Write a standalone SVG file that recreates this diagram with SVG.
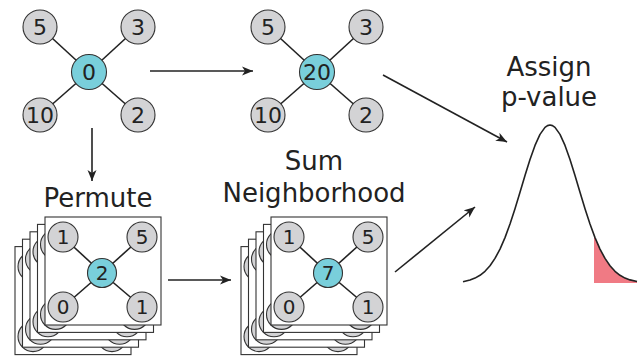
<svg xmlns="http://www.w3.org/2000/svg" xmlns:xlink="http://www.w3.org/1999/xlink" width="638" height="358" viewBox="0 0 638 358">
<style>
  .edge { stroke: #222; stroke-width: 1.6; fill: none; }
  .nb { fill: #d3d3d5; stroke: #333; stroke-width: 1.1; }
  .ctr { fill: #79cfdb; stroke: #333; stroke-width: 1.1; }
  .frame { fill: #fff; stroke: #333; stroke-width: 1.1; }
  .num { font-family: "DejaVu Sans", sans-serif; font-size: 22px; fill: #222; text-anchor: middle; }
  .snum { font-family: "DejaVu Sans", sans-serif; font-size: 20px; fill: #222; text-anchor: middle; }
  .lbl { font-family: "DejaVu Sans", sans-serif; font-size: 26px; fill: #222; text-anchor: middle; }
  .arrow { stroke: #222; stroke-width: 1.6; fill: none; marker-end: url(#ah); }
</style>
<defs>
  <marker id="ah" markerUnits="userSpaceOnUse" markerWidth="12" markerHeight="10" refX="11" refY="5" orient="auto" viewBox="0 0 12 10">
    <path d="M0,0.5 L11,5 L0,9.5 L3,5 z" fill="#222"/>
  </marker>
  <g id="card">
    <rect class="frame" x="0" y="0" width="116" height="108"/>
    <line class="edge" x1="57" y1="56" x2="18" y2="20"/>
    <line class="edge" x1="57" y1="56" x2="97" y2="20"/>
    <line class="edge" x1="57" y1="56" x2="18" y2="90"/>
    <line class="edge" x1="57" y1="56" x2="97" y2="90"/>
    <circle class="nb" cx="18" cy="20" r="15"/>
    <circle class="nb" cx="97" cy="20" r="15"/>
    <circle class="nb" cx="18" cy="90" r="15"/>
    <circle class="nb" cx="97" cy="90" r="15"/>
    <circle class="ctr" cx="57" cy="56" r="14.5"/>
  </g>
</defs>
<rect width="638" height="358" fill="#fff"/>

<g id="graph-original">
  <line class="edge" x1="89" y1="72" x2="40" y2="27"/>
  <line class="edge" x1="89" y1="72" x2="138" y2="27"/>
  <line class="edge" x1="89" y1="72" x2="40" y2="115"/>
  <line class="edge" x1="89" y1="72" x2="138" y2="115"/>
  <circle class="nb" cx="40" cy="27" r="17"/><text class="num" x="40" y="35">5</text>
  <circle class="nb" cx="138" cy="27" r="17"/><text class="num" x="138" y="35">3</text>
  <circle class="nb" cx="40" cy="115" r="17"/><text class="num" x="40" y="123">10</text>
  <circle class="nb" cx="138" cy="115" r="17"/><text class="num" x="138" y="123">2</text>
  <circle class="ctr" cx="89" cy="72" r="17.5"/><text class="num" x="89" y="80">0</text>
</g>

<g id="graph-summed">
  <line class="edge" x1="317" y1="72" x2="268" y2="27"/>
  <line class="edge" x1="317" y1="72" x2="366" y2="27"/>
  <line class="edge" x1="317" y1="72" x2="268" y2="115"/>
  <line class="edge" x1="317" y1="72" x2="366" y2="115"/>
  <circle class="nb" cx="268" cy="27" r="17"/><text class="num" x="268" y="35">5</text>
  <circle class="nb" cx="366" cy="27" r="17"/><text class="num" x="366" y="35">3</text>
  <circle class="nb" cx="268" cy="115" r="17"/><text class="num" x="268" y="123">10</text>
  <circle class="nb" cx="366" cy="115" r="17"/><text class="num" x="366" y="123">2</text>
  <circle class="ctr" cx="317" cy="72" r="17.5"/><text class="num" x="317" y="80">20</text>
</g>

<g id="permute-stack">
  <text class="lbl" x="98" y="207">Permute</text>
  <use xlink:href="#card" href="#card" transform="translate(15,246.6)"/>
  <use xlink:href="#card" href="#card" transform="translate(22.5,239.2)"/>
  <use xlink:href="#card" href="#card" transform="translate(30,231.8)"/>
  <use xlink:href="#card" href="#card" transform="translate(37.5,224.4)"/>
  <g transform="translate(45,217)">
    <use xlink:href="#card" href="#card"/>
    <text class="snum" x="18" y="27">1</text>
    <text class="snum" x="97" y="27">5</text>
    <text class="snum" x="18" y="97">0</text>
    <text class="snum" x="97" y="97">1</text>
    <text class="snum" x="57" y="63">2</text>
  </g>
</g>

<g id="sum-stack">
  <text class="lbl" x="314" y="170">Sum</text>
  <text class="lbl" x="314" y="202">Neighborhood</text>
  <use xlink:href="#card" href="#card" transform="translate(241,246.6)"/>
  <use xlink:href="#card" href="#card" transform="translate(248.5,239.2)"/>
  <use xlink:href="#card" href="#card" transform="translate(256,231.8)"/>
  <use xlink:href="#card" href="#card" transform="translate(263.5,224.4)"/>
  <g transform="translate(271,217)">
    <use xlink:href="#card" href="#card"/>
    <text class="snum" x="18" y="27">1</text>
    <text class="snum" x="97" y="27">5</text>
    <text class="snum" x="18" y="97">0</text>
    <text class="snum" x="97" y="97">1</text>
    <text class="snum" x="57" y="63">7</text>
  </g>
</g>

<g id="pvalue">
  <text class="lbl" x="549" y="76">Assign</text>
  <text class="lbl" x="549" y="106">p-value</text>
  <polygon fill="#f07a84" points="594,234.9 595,237.6 600,249.1 605,258.4 610,265.8 615,271.3 620,275.3 625,278.1 630,279.9 637,281.5 637,283 594,283"/>
  <polyline fill="none" stroke="#222" stroke-width="1.6" stroke-linejoin="round" points="463,281.8 470,279.9 475,278.1 480,275.3 485,271.3 490,265.8 495,258.4 500,249.1 505,237.6 510,224 515,208.7 520,192.2 525,175.4 530,159.5 535,145.4 540,134.4 545,127.4 547.5,125.6 550,125 552.5,125.6 555,127.4 560,134.4 565,145.4 570,159.5 575,175.4 580,192.2 585,208.7 590,224 595,237.6 600,249.1 605,258.4 610,265.8 615,271.3 620,275.3 625,278.1 630,279.9 637,281.5"/>
</g>

<g id="connectors">
  <line class="arrow" x1="150" y1="71" x2="253" y2="71"/>
  <line class="arrow" x1="92" y1="128" x2="92" y2="181"/>
  <line class="arrow" x1="168" y1="280" x2="231" y2="280"/>
  <line class="arrow" x1="383" y1="75" x2="507" y2="142"/>
  <line class="arrow" x1="395" y1="272" x2="475" y2="207"/>
</g>
</svg>
